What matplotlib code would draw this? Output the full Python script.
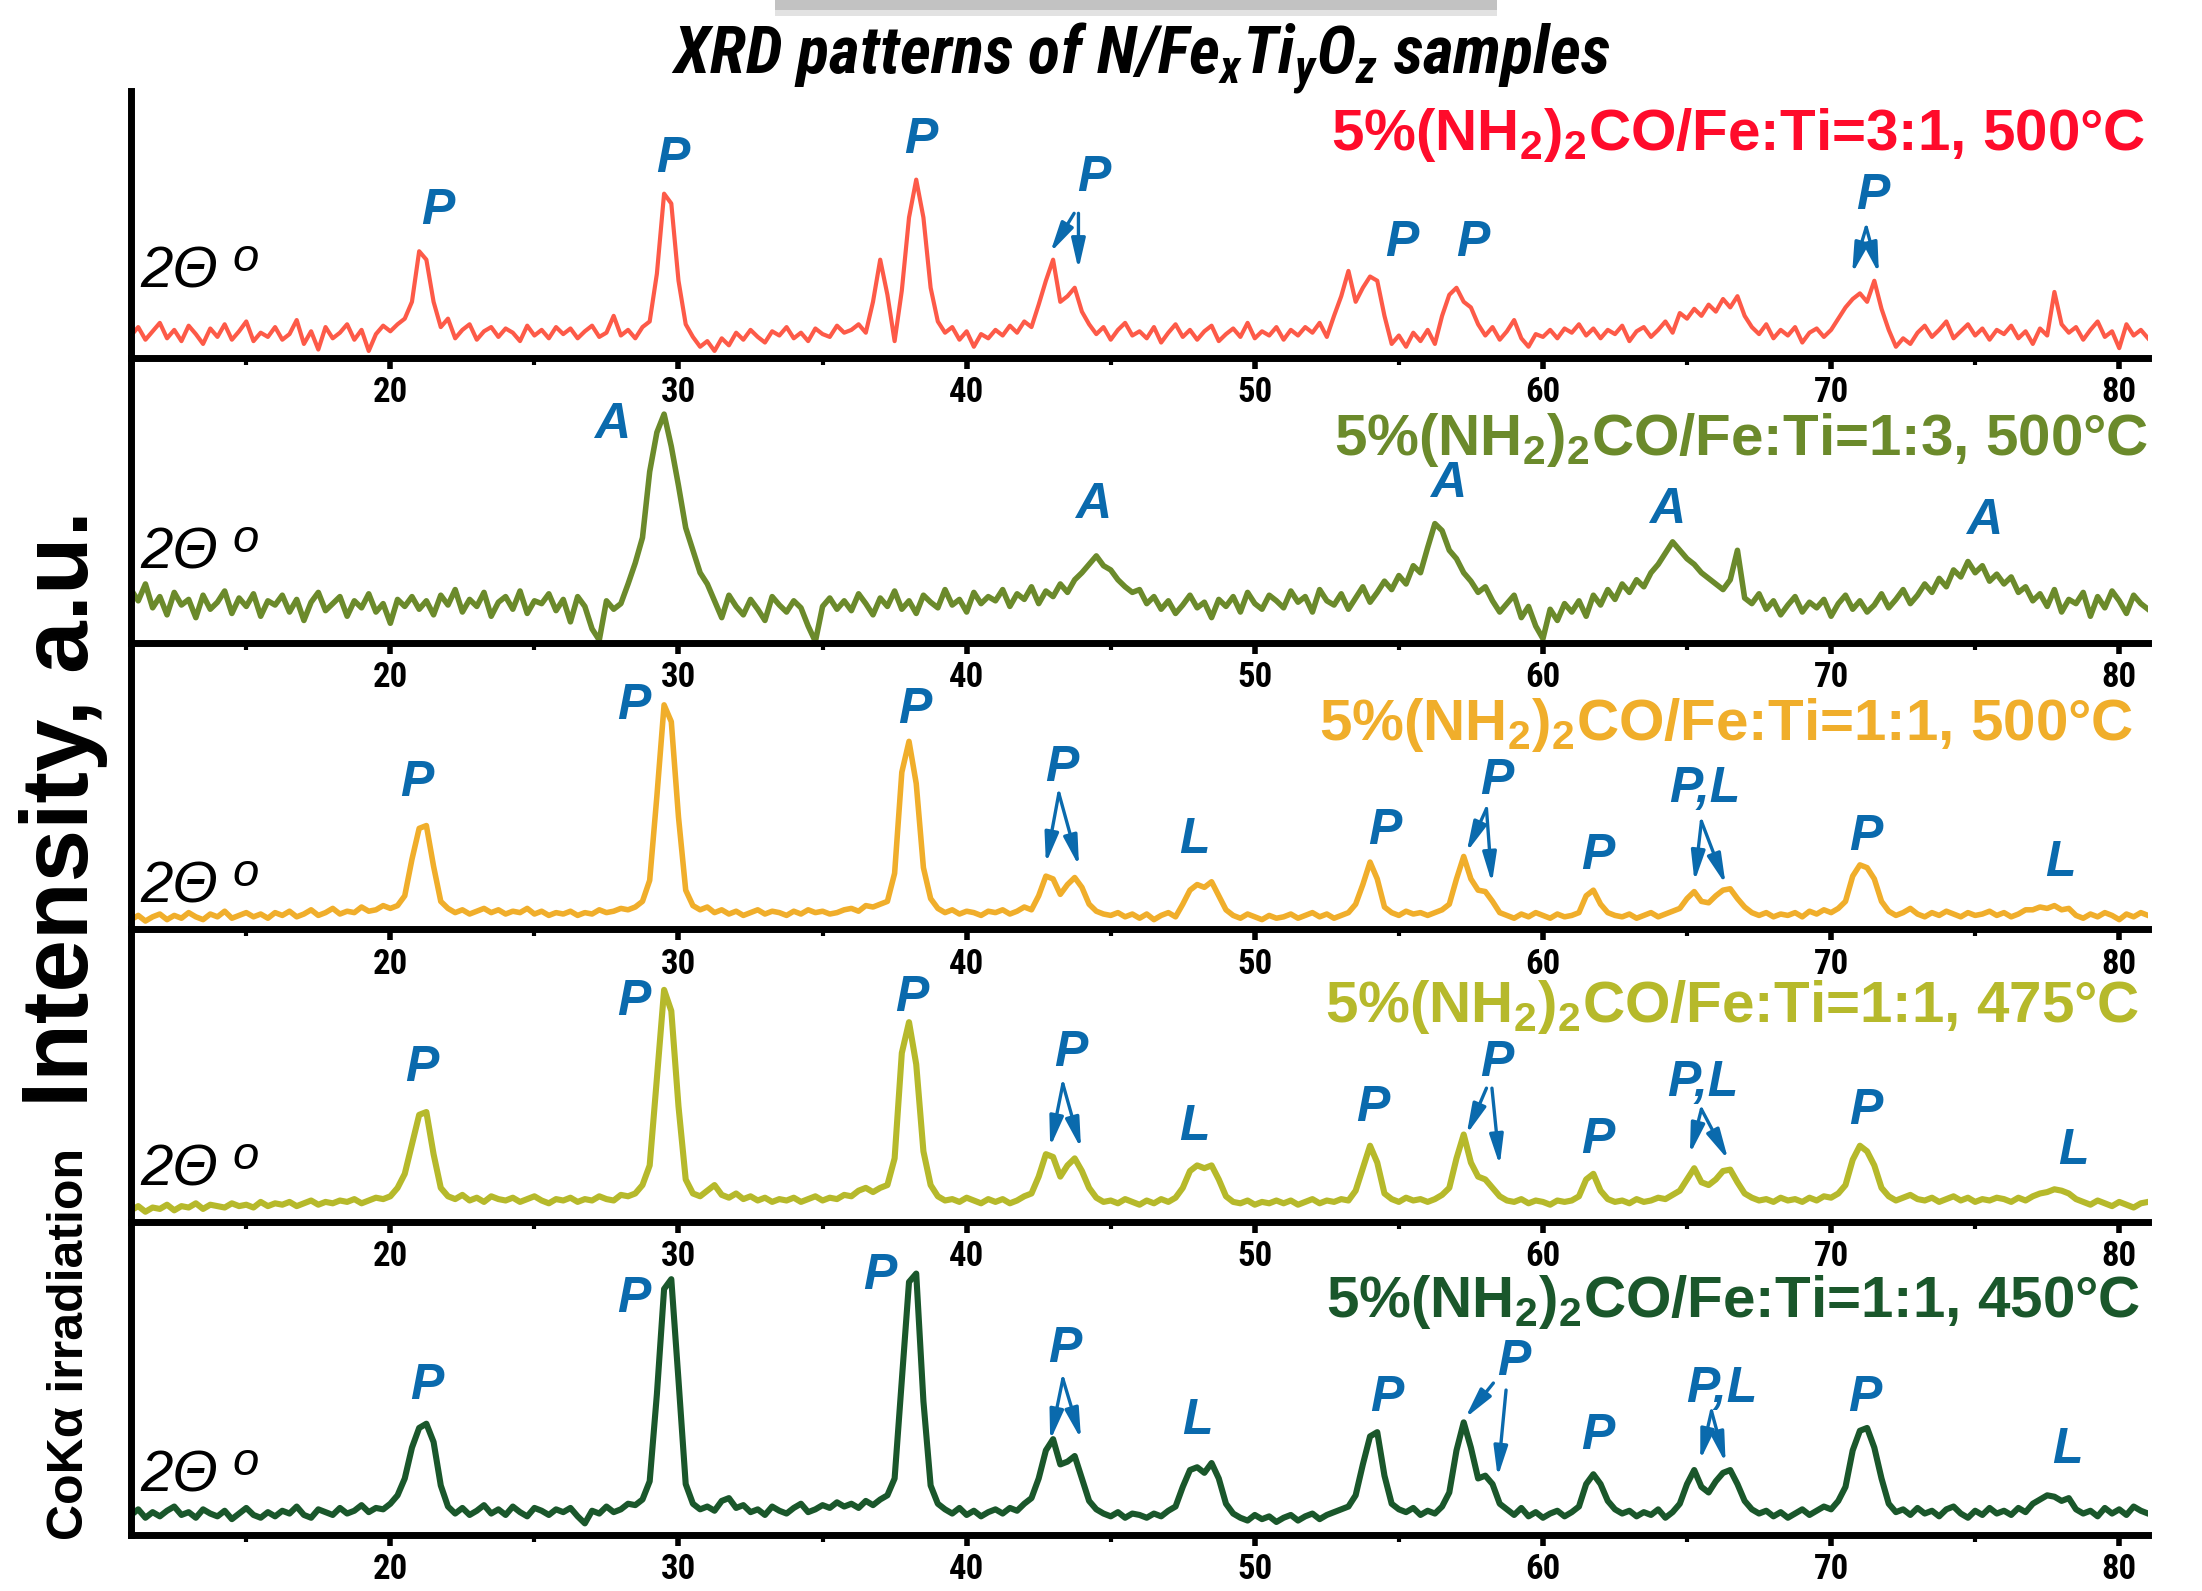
import numpy as np
import matplotlib
matplotlib.use('Agg')
import matplotlib.pyplot as plt
from matplotlib import font_manager
from matplotlib.patches import Rectangle
from matplotlib.ticker import MultipleLocator

# 2-theta scan grid (deg), 0.25 deg step, 11..81
two_theta = np.arange(11.0, 81.001, 0.25)

# intensities (a.u.), one row = 5 deg
i_fe31_500 = [
    16, 22, 13, 19, 25, 14, 20, 12, 23, 17, 10, 21, 15, 24, 13, 19, 26, 12, 18, 15,
    22, 13, 17, 27, 10, 19, 6, 22, 14, 18, 24, 13, 20, 5, 17, 23, 19, 24, 28, 40,
    76, 70, 40, 22, 28, 14, 20, 24, 13, 19, 22, 15, 21, 18, 12, 23, 16, 20, 14, 22,
    17, 21, 14, 19, 23, 15, 18, 30, 16, 20, 14, 22, 26, 60, 117, 110, 55, 24, 15, 8,
    12, 5, 14, 9, 18, 13, 20, 15, 11, 19, 16, 22, 14, 18, 12, 21, 17, 15, 23, 18,
    20, 24, 18, 40, 70, 45, 12, 48, 100, 127, 100, 50, 26, 18, 22, 13, 19, 8, 17, 14,
    20, 16, 23, 18, 26, 22, 38, 55, 70, 40, 44, 50, 33, 24, 17, 22, 13, 20, 25, 16,
    19, 14, 22, 11, 18, 24, 15, 20, 13, 19, 23, 12, 17, 21, 15, 25, 14, 19, 16, 22,
    13, 20, 16, 22, 18, 25, 15, 30, 44, 62, 40, 50, 58, 55, 30, 10, 16, 8, 18, 12,
    20, 10, 30, 45, 50, 40, 36, 24, 16, 22, 13, 19, 27, 14, 8, 17, 15, 20, 14, 21,
    18, 24, 16, 21, 14, 20, 17, 23, 12, 19, 22, 15, 20, 26, 18, 32, 28, 35, 30, 38,
    33, 42, 36, 44, 30, 22, 17, 24, 14, 20, 16, 22, 11, 18, 21, 15, 20, 28, 36, 42,
    46, 40, 55, 35, 20, 8, 14, 10, 18, 23, 15, 20, 26, 14, 19, 24, 16, 21, 13, 20,
    17, 23, 14, 19, 10, 21, 16, 47, 24, 18, 22, 13, 20, 26, 15, 19, 7, 24, 16, 20,
    14]

i_fe13_500 = [
    38, 30, 42, 25, 33, 20, 36, 27, 31, 18, 34, 24, 29, 37, 21, 32, 26, 35, 19, 30,
    27, 34, 22, 31, 16, 29, 36, 23, 28, 33, 19, 30, 25, 35, 22, 28, 14, 31, 26, 33,
    24, 30, 20, 34, 27, 38, 22, 31, 26, 36, 19, 29, 33, 24, 37, 21, 30, 28, 35, 23,
    31, 15, 33, 26, 10, 2, 30, 24, 28, 42, 57, 75, 122, 150, 163, 140, 112, 82, 66, 50,
    42, 30, 18, 34, 26, 20, 31, 24, 16, 33, 27, 22, 30, 25, 12, 1, 26, 32, 24, 30,
    23, 35, 28, 20, 32, 26, 37, 24, 30, 21, 34, 29, 25, 38, 27, 31, 22, 36, 28, 33,
    30, 38, 26, 35, 31, 40, 28, 37, 33, 42, 36, 45, 50, 56, 62, 55, 52, 45, 40, 36,
    38, 28, 33, 24, 30, 21, 27, 34, 25, 29, 18, 31, 26, 33, 22, 36, 28, 24, 34, 30,
    25, 37, 29, 33, 22, 38, 30, 27, 35, 24, 32, 40, 29, 36, 44, 38, 48, 42, 55, 50,
    68, 85, 80, 66, 60, 50, 44, 36, 40, 30, 22, 28, 34, 18, 26, 12, 3, 24, 16, 28,
    22, 30, 19, 34, 27, 38, 31, 42, 36, 45, 40, 50, 56, 64, 72, 66, 60, 56, 50, 46,
    42, 38, 45, 66, 32, 28, 35, 24, 30, 20, 27, 33, 22, 29, 25, 31, 19, 28, 34, 24,
    30, 22, 27, 35, 25, 31, 38, 28, 34, 42, 36, 46, 40, 52, 47, 58, 50, 55, 44, 49,
    42, 47, 36, 40, 30, 35, 26, 38, 22, 31, 28, 36, 19, 33, 25, 37, 30, 21, 34, 28,
    24]

i_fe11_500 = [
    7, 10, 6, 9, 11, 7, 10, 8, 12, 9, 7, 11, 9, 13, 8, 10, 12, 9, 11, 8,
    12, 10, 13, 9, 11, 14, 10, 12, 15, 11, 13, 12, 16, 13, 14, 17, 15, 17, 24, 50,
    72, 74, 45, 20, 15, 12, 14, 11, 13, 15, 12, 14, 11, 13, 12, 15, 11, 13, 10, 12,
    11, 13, 10, 12, 11, 14, 12, 13, 15, 14, 16, 20, 35, 95, 160, 148, 80, 28, 17, 14,
    16, 12, 14, 11, 13, 10, 12, 14, 11, 13, 12, 10, 13, 11, 14, 12, 13, 11, 12, 14,
    15, 13, 17, 16, 18, 20, 40, 112, 134, 104, 44, 22, 15, 12, 14, 11, 13, 12, 10, 13,
    12, 14, 11, 13, 16, 14, 24, 38, 36, 25, 32, 37, 30, 18, 13, 11, 10, 12, 9, 11,
    8, 11, 7, 10, 12, 9, 18, 28, 32, 30, 34, 24, 14, 10, 8, 11, 9, 7, 10, 8,
    9, 11, 8, 10, 12, 9, 11, 8, 10, 12, 18, 32, 48, 36, 16, 12, 10, 13, 11, 12,
    10, 12, 14, 18, 36, 52, 36, 28, 27, 20, 12, 10, 8, 11, 9, 12, 10, 8, 11, 9,
    10, 12, 24, 28, 18, 12, 10, 9, 11, 8, 10, 12, 9, 11, 13, 15, 22, 27, 20, 19,
    24, 28, 29, 22, 16, 12, 10, 12, 9, 11, 10, 12, 9, 13, 11, 14, 12, 15, 20, 38,
    46, 44, 36, 20, 13, 10, 12, 15, 11, 9, 12, 10, 13, 11, 9, 12, 10, 11, 13, 10,
    12, 9, 11, 14, 14, 16, 15, 17, 14, 15, 10, 8, 11, 9, 12, 10, 7, 11, 9, 12,
    10]

i_fe11_475 = [
    8, 11, 7, 10, 9, 12, 8, 11, 10, 13, 9, 12, 11, 10, 13, 11, 12, 10, 14, 11,
    13, 12, 14, 11, 13, 15, 12, 14, 13, 15, 14, 16, 13, 15, 17, 16, 18, 24, 34, 55,
    76, 78, 48, 24, 18, 16, 19, 15, 17, 14, 18, 16, 15, 17, 14, 16, 18, 15, 13, 16,
    15, 17, 14, 16, 15, 18, 16, 15, 19, 18, 20, 26, 40, 102, 165, 150, 82, 30, 20, 18,
    22, 26, 19, 17, 20, 16, 18, 15, 17, 14, 16, 15, 17, 14, 16, 18, 15, 17, 16, 19,
    18, 22, 24, 21, 24, 26, 45, 120, 142, 112, 50, 26, 18, 15, 16, 14, 17, 15, 13, 16,
    14, 16, 13, 15, 18, 20, 32, 48, 46, 32, 40, 45, 36, 24, 17, 14, 15, 13, 16, 14,
    12, 15, 13, 16, 14, 17, 24, 36, 40, 38, 40, 30, 18, 14, 13, 15, 12, 14, 13, 15,
    13, 15, 12, 14, 16, 13, 15, 14, 16, 15, 22, 38, 54, 42, 20, 16, 14, 17, 15, 16,
    14, 16, 19, 24, 45, 62, 42, 32, 30, 24, 18, 15, 14, 16, 13, 15, 14, 12, 15, 14,
    15, 18, 30, 34, 22, 16, 14, 15, 13, 16, 14, 15, 17, 16, 19, 22, 30, 38, 28, 26,
    30, 36, 37, 28, 20, 17, 15, 16, 14, 17, 15, 16, 14, 17, 15, 18, 17, 20, 26, 44,
    54, 50, 40, 24, 18, 15, 17, 19, 16, 15, 17, 14, 16, 18, 15, 17, 14, 16, 15, 17,
    16, 14, 17, 15, 18, 20, 21, 23, 22, 20, 16, 14, 12, 15, 13, 11, 14, 12, 10, 13,
    14]

i_fe11_450 = [
    14, 18, 12, 16, 13, 17, 20, 14, 16, 12, 18, 15, 13, 17, 11, 15, 19, 14, 12, 16,
    13, 17, 15, 20, 14, 12, 18, 16, 14, 19, 15, 17, 21, 16, 19, 18, 22, 28, 40, 62,
    76, 79, 66, 35, 20, 15, 19, 14, 17, 21, 15, 18, 14, 20, 16, 13, 19, 17, 14, 18,
    16, 19, 13, 8, 17, 15, 20, 16, 18, 22, 21, 25, 38, 100, 175, 182, 110, 36, 22, 18,
    20, 17, 24, 26, 19, 21, 16, 18, 14, 20, 17, 15, 19, 22, 16, 18, 21, 19, 23, 20,
    22, 19, 24, 21, 25, 28, 40, 110, 180, 186, 95, 35, 22, 18, 15, 19, 14, 17, 13, 16,
    18, 15, 19, 17, 22, 26, 40, 60, 68, 50, 52, 56, 40, 24, 18, 15, 13, 16, 12, 15,
    14, 12, 15, 13, 17, 20, 34, 46, 48, 44, 51, 40, 22, 15, 12, 10, 14, 11, 13, 9,
    12, 14, 10, 13, 15, 11, 14, 16, 18, 20, 28, 50, 70, 73, 42, 22, 18, 16, 19, 14,
    17, 15, 20, 30, 60, 80, 62, 40, 42, 36, 22, 18, 14, 19, 13, 16, 12, 15, 17, 13,
    16, 20, 36, 43, 36, 24, 18, 15, 17, 13, 16, 14, 18, 12, 16, 22, 36, 46, 34, 30,
    38, 44, 46, 36, 24, 18, 15, 17, 13, 16, 12, 15, 18, 14, 17, 20, 18, 24, 34, 60,
    74, 76, 62, 40, 22, 16, 18, 14, 19, 15, 17, 13, 18, 20, 15, 12, 17, 14, 19, 15,
    17, 14, 19, 16, 22, 25, 28, 27, 24, 26, 18, 15, 17, 13, 19, 15, 18, 14, 20, 17,
    15]

sample_labels = [
    r'5%(NH$_2$)$_2$CO/Fe:Ti=3:1, 500°C',
    r'5%(NH$_2$)$_2$CO/Fe:Ti=1:3, 500°C',
    r'5%(NH$_2$)$_2$CO/Fe:Ti=1:1, 500°C',
    r'5%(NH$_2$)$_2$CO/Fe:Ti=1:1, 475°C',
    r'5%(NH$_2$)$_2$CO/Fe:Ti=1:1, 450°C',
]


def first_font(names):
    for name in names:
        try:
            font_manager.findfont(font_manager.FontProperties(family=name),
                                  fallback_to_default=False)
            return name
        except ValueError:
            pass
    return None


NARROW = first_font(['Liberation Sans Narrow', 'DejaVu Sans Condensed',
                     'Roboto Condensed', 'Open Sans Condensed'])
title_size = 48
if NARROW is None:
    NARROW = 'Liberation Sans'
    title_size = 40

plt.rcParams['font.family'] = ['Liberation Sans', 'DejaVu Sans']
plt.rcParams['mathtext.fontset'] = 'custom'
plt.rcParams['mathtext.rm'] = 'Liberation Sans:bold'
plt.rcParams['mathtext.bf'] = 'Liberation Sans:bold'
plt.rcParams['mathtext.it'] = NARROW + ':bold:italic'

BLUE = '#0a6aad'

# per panel: data, line colour, text colour, line width, y-top, axes rect
panels = [
    dict(y=i_fe31_500, c='#fd5a48', tc='#ff0b2b', lw=3.0, top=190,
         rect=[0.0595, 0.7750, 0.916, 0.1677], lab=(80.9, 148),
         theta=50),
    dict(y=i_fe13_500, c='#6b8a2b', tc='#6b8a2b', lw=4.0, top=203,
         rect=[0.0595, 0.5959, 0.916, 0.1791], lab=(81.0, 134),
         theta=53),
    dict(y=i_fe11_500, c='#f0ae2b', tc='#f0ae2b', lw=4.0, top=204,
         rect=[0.0595, 0.4158, 0.916, 0.1800], lab=(80.5, 135),
         theta=19),
    dict(y=i_fe11_475, c='#b6b92b', tc='#b6b92b', lw=4.4, top=208,
         rect=[0.0595, 0.2322, 0.916, 0.1836], lab=(80.7, 142),
         theta=26),
    dict(y=i_fe11_450, c='#1a572b', tc='#1a572b', lw=4.4, top=223,
         rect=[0.0595, 0.03545, 0.916, 0.1967], lab=(80.75, 155),
         theta=31),
]

# peak marks: (text, x, y) and arrows (x0, y0, x1, y1)
marks = [
    [('P', 21.66, 105), ('P', 29.8, 142), ('P', 38.4, 155), ('P', 44.4, 128),
     ('P', 55.1, 82), ('P', 57.55, 82), ('P', 71.45, 115)],
    [('A', 27.7, 155), ('A', 44.4, 98), ('A', 56.7, 113), ('A', 64.3, 95),
     ('A', 75.3, 87)],
    [('P', 20.93, 104), ('P', 28.45, 159), ('P', 38.2, 156), ('P', 43.3, 115),
     ('L', 47.9, 64), ('P', 54.5, 70), ('P', 58.4, 106), ('P', 61.9, 52),
     ('P,L', 65.6, 100), ('P', 71.2, 66), ('L', 77.96, 47)],
    [('P', 21.1, 109), ('P', 28.45, 156), ('P', 38.1, 159), ('P', 43.6, 120),
     ('L', 47.9, 67), ('P', 54.1, 81), ('P', 58.4, 113), ('P', 61.9, 58),
     ('P,L', 65.55, 99), ('P', 71.2, 79), ('L', 78.4, 50)],
    [('P', 21.27, 106), ('P', 28.45, 168), ('P', 37.0, 184), ('P', 43.4, 132),
     ('L', 48.0, 81), ('P', 54.57, 97), ('P', 59.0, 123), ('P', 61.9, 70),
     ('P,L', 66.2, 104), ('P', 71.17, 97), ('L', 78.2, 60)],
]
arrows = [
    [(43.73, 103, 42.9, 75), (43.88, 103, 43.88, 63),
     (71.22, 93, 70.73, 60), (71.22, 93, 71.66, 60)],
    [],
    [(43.2, 97, 42.75, 47), (43.2, 97, 43.9, 45), (58.04, 86, 57.35, 55),
     (58.04, 86, 58.23, 33), (65.5, 77, 65.26, 34), (65.5, 77, 66.34, 32)],
    [(43.34, 98, 42.9, 53), (43.34, 98, 43.97, 52), (58.04, 95, 57.35, 62),
     (58.23, 95, 58.5, 40), (65.5, 80, 65.1, 48), (65.5, 80, 66.43, 44)],
    [(43.34, 111, 42.9, 67), (43.34, 111, 43.97, 68), (58.28, 108, 57.3, 83),
     (58.72, 103, 58.43, 41), (65.85, 88, 65.46, 53), (65.85, 88, 66.34, 51)],
]

fig = plt.figure(figsize=(22.02, 15.91), dpi=100)

for k, p in enumerate(panels):
    ax = fig.add_axes(p['rect'])
    ax.patch.set_visible(False)
    ax.plot(two_theta, p['y'], color=p['c'], lw=p['lw'], solid_joinstyle='round')
    ax.set_xlim(11, 81)
    ax.set_ylim(0, p['top'])

    for side in ('top', 'right'):
        ax.spines[side].set_visible(False)
    ax.spines['left'].set_linewidth(5)
    ax.spines['bottom'].set_linewidth(5)
    ax.set_yticks([])
    ax.xaxis.set_major_locator(MultipleLocator(10))
    ax.xaxis.set_minor_locator(MultipleLocator(5))
    ax.tick_params(axis='x', which='major', direction='out', length=8, width=4,
                   labelsize=25, pad=5)
    ax.tick_params(axis='x', which='minor', direction='out', length=5, width=3)
    for t in ax.get_xticklabels():
        t.set_fontweight('bold')
        t.set_family(NARROW)

    ax.text(p['lab'][0], p['lab'][1], sample_labels[k], ha='right', va='baseline',
            fontsize=42, fontweight='bold', color=p['tc'])

    th = ax.text(11.34, p['theta'], '2Θ', ha='left', va='baseline',
                 fontsize=42, fontstyle='italic')
    ax.annotate('o', xy=(1, 1), xycoords=th, xytext=(10, 6),
                textcoords='offset points', ha='left', va='top',
                fontsize=34, fontstyle='italic')

    for s, x, y in marks[k]:
        ax.text(x, y, s, ha='center', va='center', color=BLUE, fontsize=36,
                fontweight='bold', fontstyle='italic')
    for x0, y0, x1, y1 in arrows[k]:
        ax.annotate('', xy=(x1, y1), xytext=(x0, y0),
                    arrowprops=dict(arrowstyle='-|>,head_length=0.7,head_width=0.16',
                                    color=BLUE, lw=2.4, shrinkA=0, shrinkB=0,
                                    mutation_scale=26))

fig.text(0.518, 0.963, r'XRD patterns of N/Fe$_x$Ti$_y$O$_z$ samples',
         ha='center', va='center', fontsize=title_size, fontweight='black',
         fontstyle='italic', family=NARROW)
fig.text(0.0287, 0.4915, 'Intensity, a.u.', rotation=90, ha='center', va='center',
         fontsize=68, fontweight='bold')
fig.text(0.032, 0.155, 'CoKα irradiation', rotation=90, ha='center', va='center',
         fontsize=36, fontweight='bold')

# grey shadow strip at the very top
fig.patches.append(Rectangle((0.352, 0.994), 0.328, 0.006, transform=fig.transFigure,
                             facecolor='#c2c2c2', edgecolor='none'))
fig.patches.append(Rectangle((0.352, 0.990), 0.328, 0.004, transform=fig.transFigure,
                             facecolor='#e2e2e2', edgecolor='none'))

fig.savefig('out.png', dpi=100, facecolor='white')
